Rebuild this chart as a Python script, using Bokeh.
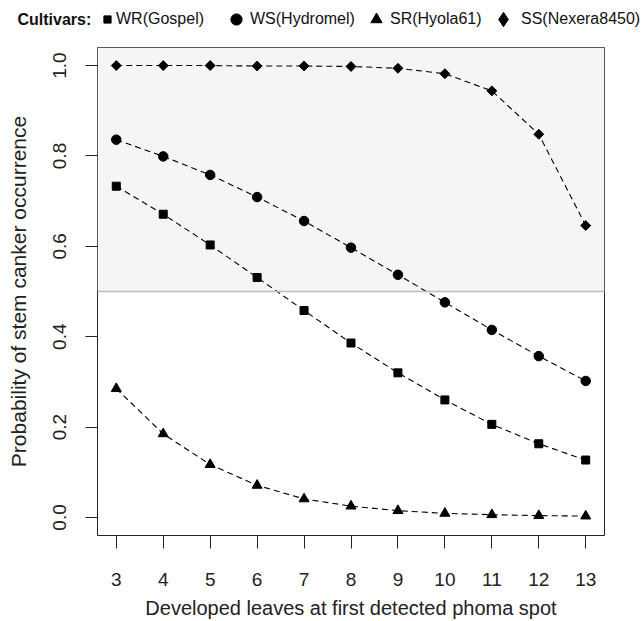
from bokeh.plotting import figure
from bokeh.layouts import column
from bokeh.models import (Range1d, BoxAnnotation, Span, Legend, LegendItem, Label,
                          FixedTicker, NumeralTickFormatter, ColumnDataSource)
from bokeh.embed import file_html
from bokeh.resources import INLINE
import math

# ---- data ----
leaves = [3, 4, 5, 6, 7, 8, 9, 10, 11, 12, 13]
wr_gospel = [0.733, 0.671, 0.603, 0.531, 0.458, 0.386, 0.320, 0.260, 0.206, 0.163, 0.127]
ws_hydromel = [0.836, 0.799, 0.758, 0.709, 0.656, 0.597, 0.537, 0.476, 0.415, 0.357, 0.302]
sr_hyola61 = [0.285, 0.185, 0.117, 0.071, 0.041, 0.025, 0.015, 0.009, 0.006, 0.004, 0.003]
ss_nexera = [1.0, 1.0, 1.0, 0.999, 0.999, 0.998, 0.994, 0.982, 0.944, 0.848, 0.646]
series_labels = ["WR(Gospel)", "WS(Hydromel)", "SR(Hyola61)", "SS(Nexera8450)"]
legend_title = "Cultivars:"
y_ticks = [0.0, 0.2, 0.4, 0.6, 0.8, 1.0]
threshold = 0.5

FONT = "Liberation Sans"
W = 644
LEG_FIG_H = 38
LEG_H = 36
FRAME_LEFT = 97

# ---- legend strip (separate figure on top) ----
lf = figure(width=W, height=LEG_FIG_H, output_backend="svg", toolbar_location=None,
            x_range=Range1d(0, 1), y_range=Range1d(0, 1),
            x_axis_location=None, y_axis_location=None, min_border=0)
lf.outline_line_color = None
lf.xgrid.visible = False
lf.ygrid.visible = False
lf.background_fill_color = "white"
lf.border_fill_color = "white"
if "frame_align" in lf.properties():
    lf.frame_align = False
    X_OFF = 0
else:
    X_OFF = FRAME_LEFT

# ---- main plot ----
p = figure(width=W, height=621 - LEG_FIG_H, output_backend="svg", toolbar_location=None,
           x_range=Range1d(2.6, 13.4), y_range=Range1d(-0.04, 1.04),
           min_border_left=FRAME_LEFT, min_border_right=40, min_border_top=47 - LEG_FIG_H,
           min_border_bottom=86)
p.background_fill_color = "white"
p.border_fill_color = "white"
p.outline_line_color = "#222222"
p.outline_line_width = 1
p.xgrid.visible = False
p.ygrid.visible = False

# shaded upper half and threshold line
p.add_layout(BoxAnnotation(bottom=threshold, fill_color="#f5f5f5", fill_alpha=1,
                           line_color=None, level="underlay"))
p.add_layout(Span(location=threshold, dimension="width", line_color="#bdbdbd", line_width=1.5))

series = [wr_gospel, ws_hydromel, sr_hyola61, ss_nexera]
markers = ["square", "circle", "triangle", "square"]
sizes = [8, 9.5, 10, 7]
angles = [0, 0, 0, math.pi / 4]
legend_markers = ["square", "circle", "triangle", "diamond"]

# per-item legend geometry (page x of glyph box left, glyph width, label standoff)
legend_geom = [(98, 18, 0), (222, 28, -4), (362, 28, -7), (485, 36, -16)]

for vals, mk, sz, ang, lab, lmk, (lx, gw, st) in zip(series, markers, sizes, angles,
                                                      series_labels, legend_markers, legend_geom):
    src = ColumnDataSource(dict(x=leaves, y=vals))
    p.line("x", "y", source=src, line_color="black", line_width=1.1, line_dash="6 4")
    p.scatter("x", "y", source=src, marker=mk, size=sz, angle=ang,
              fill_color="black", line_color="black")
    # renderer in the legend strip, used only for drawing the legend glyph
    lr = lf.scatter("x", "y", source=src, marker=lmk, size=sz,
                    fill_color="black", line_color="black", visible=False)
    leg = Legend(items=[LegendItem(label=lab, renderers=[lr])],
                 location=(lx - X_OFF, (LEG_FIG_H - LEG_H) / 2),
                 orientation="horizontal", border_line_color=None, background_fill_alpha=0,
                 inactive_fill_alpha=0,
                 label_text_font=FONT, label_text_font_size="16px", label_text_color="#111111",
                 glyph_width=gw, glyph_height=LEG_H, label_height=LEG_H, label_standoff=st,
                 padding=0, margin=0, spacing=0)
    lf.add_layout(leg)

lf.add_layout(Label(x=17 - X_OFF, y=LEG_FIG_H / 2, x_units="screen", y_units="screen",
                    text=legend_title, text_font=FONT, text_font_size="16px",
                    text_font_style="bold", text_baseline="middle", text_color="#111111"))

# axes
p.xaxis.ticker = FixedTicker(ticks=leaves)
p.yaxis.ticker = FixedTicker(ticks=y_ticks)
p.yaxis.formatter = NumeralTickFormatter(format="0.0")
p.xaxis.axis_label = "Developed leaves at first detected phoma spot"
p.yaxis.axis_label = "Probability of stem canker occurrence"
for ax in (p.xaxis, p.yaxis):
    ax.axis_line_color = None
    ax.major_tick_in = 0
    ax.minor_tick_line_color = None
    ax.major_tick_line_color = "#222222"
    ax.major_label_text_font = FONT
    ax.major_label_text_font_size = "19px"
    ax.major_label_text_color = "#222222"
    ax.axis_label_text_font = FONT
    ax.axis_label_text_font_style = "normal"
    ax.axis_label_text_color = "#222222"
p.xaxis.major_tick_out = 13
p.yaxis.major_tick_out = 12
p.xaxis.major_label_standoff = 24
p.yaxis.major_label_standoff = 19
p.xaxis.axis_label_standoff = 8
p.yaxis.axis_label_standoff = 21
p.xaxis.axis_label_text_font_size = "20px"
p.yaxis.axis_label_text_font_size = "21px"
p.yaxis.major_label_orientation = "vertical"

layout = column(lf, p, spacing=0)
open("out.html", "w").write(file_html(layout, INLINE))
